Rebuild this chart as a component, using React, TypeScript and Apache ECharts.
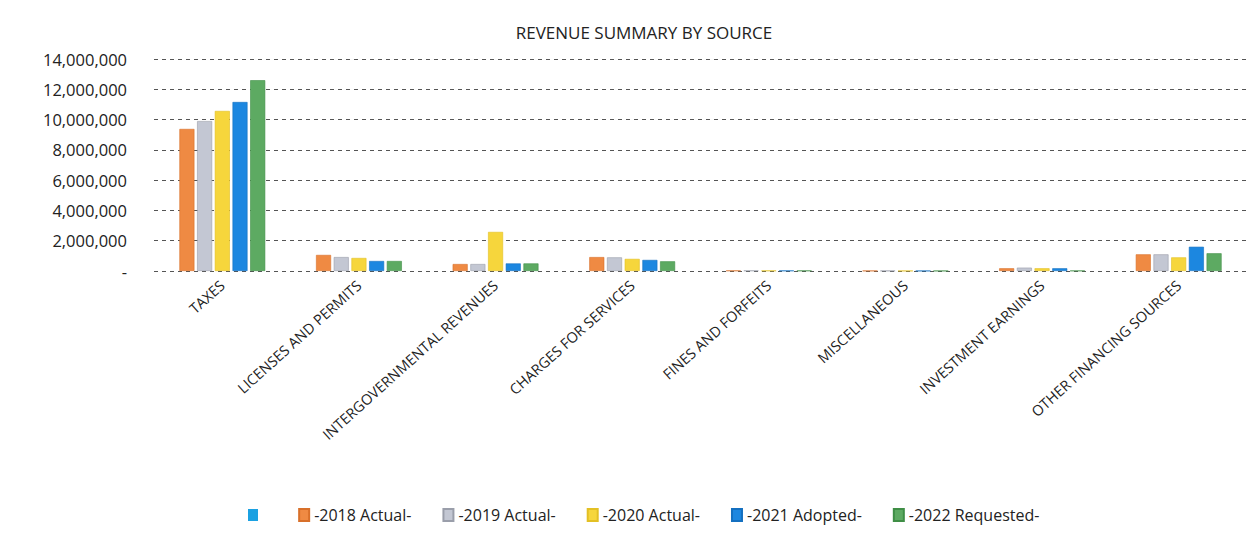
import React, { useEffect, useRef } from "react";
import * as echarts from "echarts";

const categories = [
  "TAXES",
  "LICENSES AND PERMITS",
  "INTERGOVERNMENTAL REVENUES",
  "CHARGES FOR SERVICES",
  "FINES AND FORFEITS",
  "MISCELLANEOUS",
  "INVESTMENT EARNINGS",
  "OTHER FINANCING SOURCES",
];

const seriesNames = ["-2018 Actual-", "-2019 Actual-", "-2020 Actual-", "-2021 Adopted-", "-2022 Requested-"];

const actual2018 = [9380000, 1060000, 460000, 920000, 30000, 15000, 180000, 1100000];
const actual2019 = [9900000, 920000, 460000, 900000, 30000, 15000, 220000, 1100000];
const actual2020 = [10570000, 860000, 2580000, 800000, 25000, 12000, 180000, 900000];
const adopted2021 = [11160000, 660000, 500000, 730000, 25000, 12000, 180000, 1600000];
const requested2022 = [12600000, 660000, 500000, 640000, 25000, 12000, 20000, 1170000];

const seriesValues = [actual2018, actual2019, actual2020, adopted2021, requested2022];
const colors = ["#EF8A43", "#C3C7D3", "#F6D63C", "#1C87E0", "#5DAA62"];
const borders = ["#D8702A", "#9A9EAA", "#E3C024", "#1470C0", "#3F8E46"];

export default function App() {
  const ref = useRef<HTMLDivElement>(null);
  useEffect(() => {
    document.body.style.margin = "0";
    const chart = echarts.init(ref.current!, null, { renderer: "svg" });
    const font = "'Open Sans', 'Liberation Sans', sans-serif";
    const bars = seriesNames.map((name, i) => ({
      name,
      type: "bar",
      data: seriesValues[i],
      barWidth: 15,
      barGap: "18%",
      itemStyle: { color: colors[i], borderColor: borders[i], borderWidth: 0.6 },
    }));
    chart.setOption({
      animation: false,
      backgroundColor: "#ffffff",
      title: {
        text: "REVENUE SUMMARY BY SOURCE",
        left: 639,
        top: 19,
        textAlign: "center",
        textStyle: { fontFamily: font, fontSize: 17, fontWeight: "normal", color: "#222" },
      },
      legend: {
        bottom: 13,
        left: 243,
        itemWidth: 10,
        itemHeight: 12,
        itemGap: 31,
        icon: "rect",
        textStyle: { fontFamily: font, fontSize: 16, color: "#222" },
        data: [{ name: " " }, ...seriesNames],
      },
      grid: { left: 154, right: 10, top: 59, bottom: 270, containLabel: false },
      xAxis: {
        type: "category",
        data: categories,
        axisLine: { show: false },
        axisTick: { show: false },
        axisLabel: {
          rotate: 42,
          interval: 0,
          fontFamily: font,
          fontSize: 14.5,
          color: "#222",
          margin: 12,
        },
      },
      yAxis: {
        type: "value",
        min: 0,
        max: 14000000,
        interval: 2000000,
        axisLine: { show: false },
        axisTick: { show: false },
        splitLine: { show: true, lineStyle: { color: "#555", type: [4, 4], width: 1 } },
        axisLabel: {
          fontFamily: font,
          fontSize: 16.5,
          color: "#222",
          margin: 27,
          formatter: (v: number) => (v === 0 ? "-" : v.toLocaleString("en-US")),
        },
      },
      series: [
        {
          name: " ",
          type: "line",
          data: [],
          itemStyle: { color: "#1BA1E2" },
          lineStyle: { color: "#1BA1E2" },
        },
        ...bars,
      ],
    });
    return () => chart.dispose();
  }, []);
  return <div ref={ref} style={{ width: 1257, height: 541 }} />;
}
